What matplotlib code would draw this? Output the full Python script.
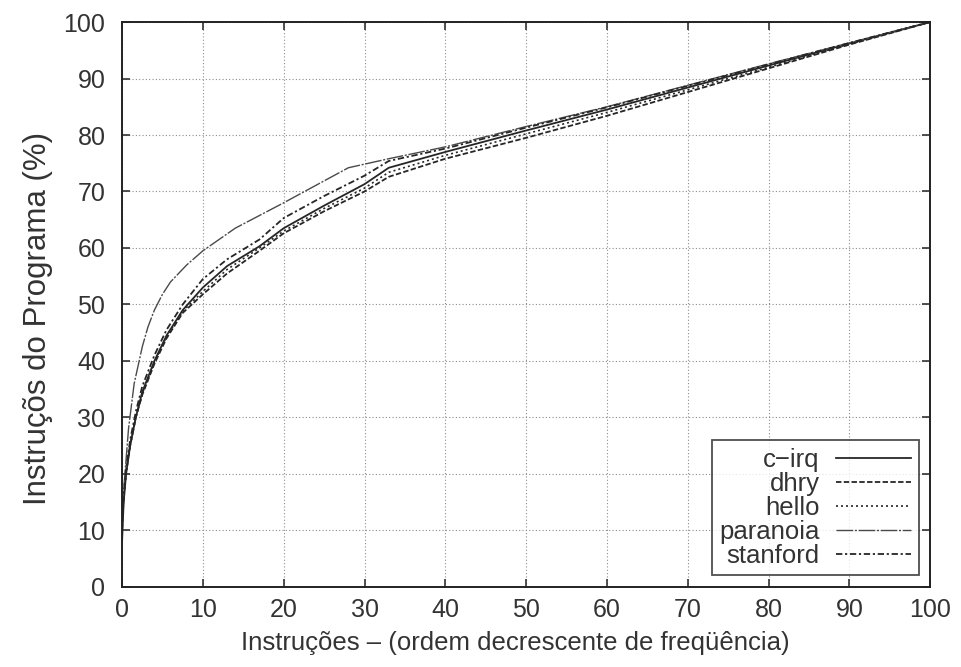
import matplotlib
matplotlib.use("Agg")
import matplotlib.pyplot as plt

plt.rcParams['font.family'] = ['Liberation Sans', 'DejaVu Sans']

# Cumulative share of program instructions vs. instruction rank (%)
x_common = [0, 0.2, 0.5, 1, 1.7, 2.5, 4, 5.5, 7.5, 10, 13, 17, 20, 25, 30, 33,
            40, 50, 60, 70, 80, 90, 100]
c_irq = [8, 15, 20, 25, 30, 34.5, 40, 44.5, 49, 53, 56.8, 60.3, 63.5, 67.5, 71.3,
         74.2, 77.0, 80.8, 84.5, 88.4, 92.3, 96.2, 100]
dhry = [12, 16, 20.5, 25, 30, 34, 39.5, 44, 48.5, 51.8, 55.5, 59.5, 62.6, 66.5,
        70.0, 72.6, 75.8, 79.5, 83.4, 87.6, 91.8, 96.0, 100]
hello = [11, 15.5, 20, 25, 30, 34.2, 39.8, 44.3, 48.8, 52.3, 56.2, 60, 63, 67,
         70.6, 73.4, 76.4, 80.2, 84.0, 88.0, 92.0, 96.1, 100]
stanford = [10, 16, 21, 26, 31, 35.5, 41, 45.5, 50, 54.5, 58, 61.5, 65.3, 69.2,
            72.8, 75.4, 77.6, 81.3, 84.9, 88.7, 92.5, 96.3, 100]
x_paranoia = [0, 0.3, 0.8, 1.5, 2.5, 3.2, 4, 5, 6, 8, 10, 14, 20, 28, 33, 40,
              50, 60, 70, 80, 90, 100]
paranoia = [14, 19, 28, 36, 42.5, 46, 49, 51.8, 54, 57, 59.5, 63.5, 68, 74.2,
            75.8, 77.9, 81.5, 85, 88.8, 92.6, 96.3, 100]

ticks = [0, 10, 20, 30, 40, 50, 60, 70, 80, 90, 100]

fig = plt.figure(figsize=(9.61, 6.67), dpi=100)
ax = fig.add_axes([0.127, 0.12, 0.841, 0.847])

ink = '#262626'
ax.plot(x_common, c_irq, color=ink, lw=1.3, ls='-', label='c\u2212irq')
ax.plot(x_common, dhry, color=ink, lw=1.3, ls=(0, (3, 1.3)), label='dhry')
ax.plot(x_common, hello, color=ink, lw=1.2, ls=(0, (1.2, 1.8)), label='hello')
ax.plot(x_paranoia, paranoia, color='#4a4a4a', lw=1.0,
        ls=(0, (12, 1.2, 1.5, 1.2)), label='paranoia')
ax.plot(x_common, stanford, color=ink, lw=1.3, ls=(0, (3.5, 1.5, 1.2, 1.5)),
        label='stanford')

ax.set_xlim(0, 100)
ax.set_ylim(0, 100)
ax.set_xticks(ticks)
ax.set_yticks(ticks)
ax.grid(True, color='#8c8c8c', ls=(0, (1, 2)), lw=0.8)
ax.tick_params(direction='in', length=6, width=1.2, top=True, right=True,
               labelsize=18, colors='#333333')
ax.tick_params(axis='x', pad=8)
ax.tick_params(axis='y', pad=12)
for s in ax.spines.values():
    s.set_linewidth(1.4)
    s.set_color('#222222')

ax.set_xlabel('Instruções – (ordem decrescente de freqüência)', fontsize=18.5,
              color='#333333')
ax.set_ylabel('Instruçõs do Programa (%)', fontsize=22.5, color='#333333')
ax.xaxis.set_label_coords(0.486, -0.078)
ax.yaxis.set_label_coords(-0.085, 0.475)

leg = ax.legend(loc='lower right', markerfirst=False, fontsize=18.5,
                frameon=True, fancybox=False, handlelength=2.9,
                borderaxespad=0.45, borderpad=0.3, labelspacing=0.0,
                handletextpad=0.65)
leg.get_frame().set_edgecolor('#222222')
leg.get_frame().set_linewidth(1.3)
for t in leg.get_texts():
    t.set_color('#333333')

fig.savefig('out.png', dpi=100, facecolor='white')
